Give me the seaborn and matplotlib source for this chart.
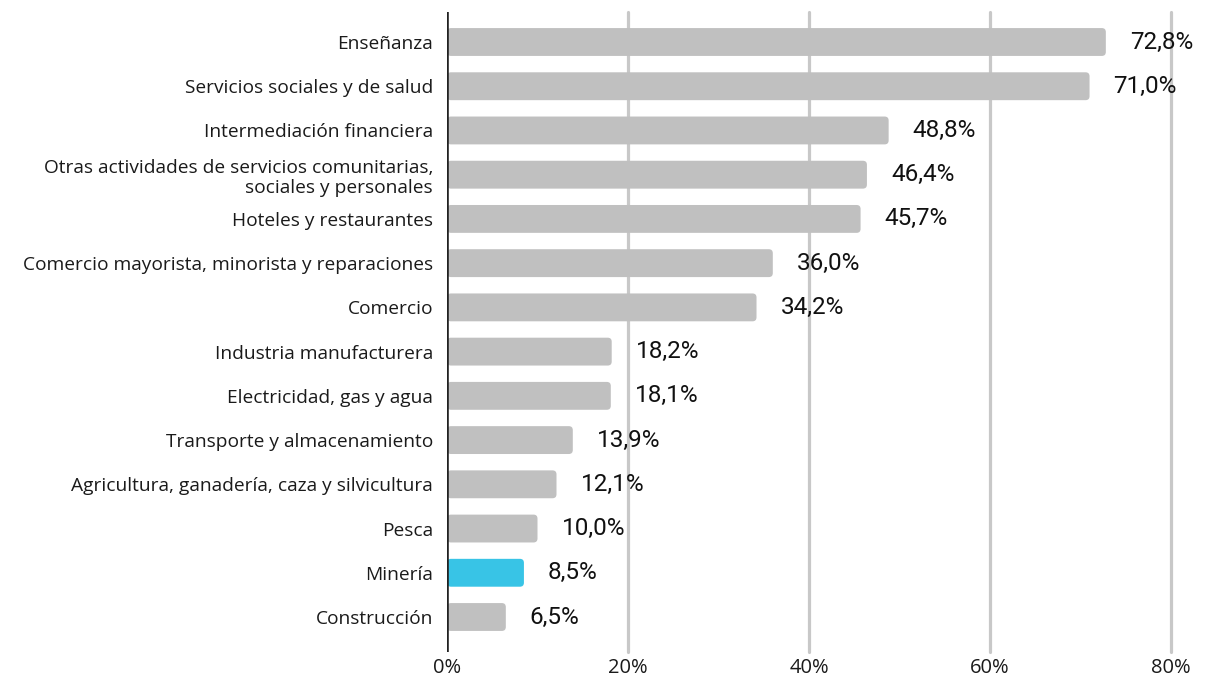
import numpy as np
import pandas as pd
import seaborn as sns
import matplotlib.pyplot as plt
from matplotlib.patches import FancyBboxPatch

sectores = [
    "Enseñanza",
    "Servicios sociales y de salud",
    "Intermediación financiera",
    "Otras actividades de servicios comunitarias,\nsociales y personales",
    "Hoteles y restaurantes",
    "Comercio mayorista, minorista y reparaciones",
    "Comercio",
    "Industria manufacturera",
    "Electricidad, gas y agua",
    "Transporte y almacenamiento",
    "Agricultura, ganadería, caza y silvicultura",
    "Pesca",
    "Minería",
    "Construcción",
]
porcentajes = [72.8, 71.0, 48.8, 46.4, 45.7, 36.0, 34.2, 18.2, 18.1, 13.9, 12.1, 10.0, 8.5, 6.5]
destacado = "Minería"

gris = "#c0c0c0"
celeste = "#38c4e6"
colores = [celeste if s == destacado else gris for s in sectores]

df = pd.DataFrame({"sector": sectores, "pct": porcentajes})

sns.set_style("white")
plt.rcParams["font.family"] = ["Open Sans", "DejaVu Sans"]

fig = plt.figure(figsize=(12.07, 6.81), dpi=100)
ax = fig.add_axes([447 / 1207, 1 - 652 / 681, (1171 - 447) / 1207, 640 / 681])

sns.barplot(data=df, x="pct", y="sector", hue="sector", palette=colores,
            saturation=1, legend=False, width=0.63, ax=ax, zorder=3)

# swap plain bars for rounded ones
x_px = 724 / 80
y_px = 44.23
for p in list(ax.patches):
    x0, y0 = p.get_x(), p.get_y()
    w, h = p.get_width(), p.get_height()
    fc = p.get_facecolor()
    p.remove()
    r = 4 / x_px
    ax.add_patch(FancyBboxPatch((x0, y0), w, h,
                                boxstyle=f"round,pad=0,rounding_size={r}",
                                mutation_aspect=x_px / y_px,
                                fc=fc, ec="none", zorder=3))

ax.set_xlim(0, 80)
ax.set_ylim(13 + 35 / y_px, -30 / y_px)
ax.set_xticks([0, 20, 40, 60, 80])
ax.set_xticklabels(["0%", "20%", "40%", "60%", "80%"])
for x in [20, 40, 60, 80]:
    ax.axvline(x, color="#c8c8c8", lw=2.3, zorder=1, clip_on=False)
ax.axvline(0, color="#222222", lw=2.6, zorder=4)

for i, v in enumerate(porcentajes):
    ax.annotate(f"{v:.1f}%".replace(".", ","), (v, i), xytext=(24, 0),
                textcoords="offset pixels", va="center", ha="left",
                fontsize=17.5, family="Roboto", color="#111111",
                annotation_clip=False)

for s in ax.spines.values():
    s.set_visible(False)
ax.tick_params(axis="both", length=0)
ax.tick_params(axis="y", pad=10, labelsize=13.8, labelcolor="#1a1a1a")
ax.tick_params(axis="x", pad=4, labelsize=14.5, labelcolor="#1a1a1a")
ax.set_xlabel("")
ax.set_ylabel("")

fig.savefig("out.png", dpi=100)
